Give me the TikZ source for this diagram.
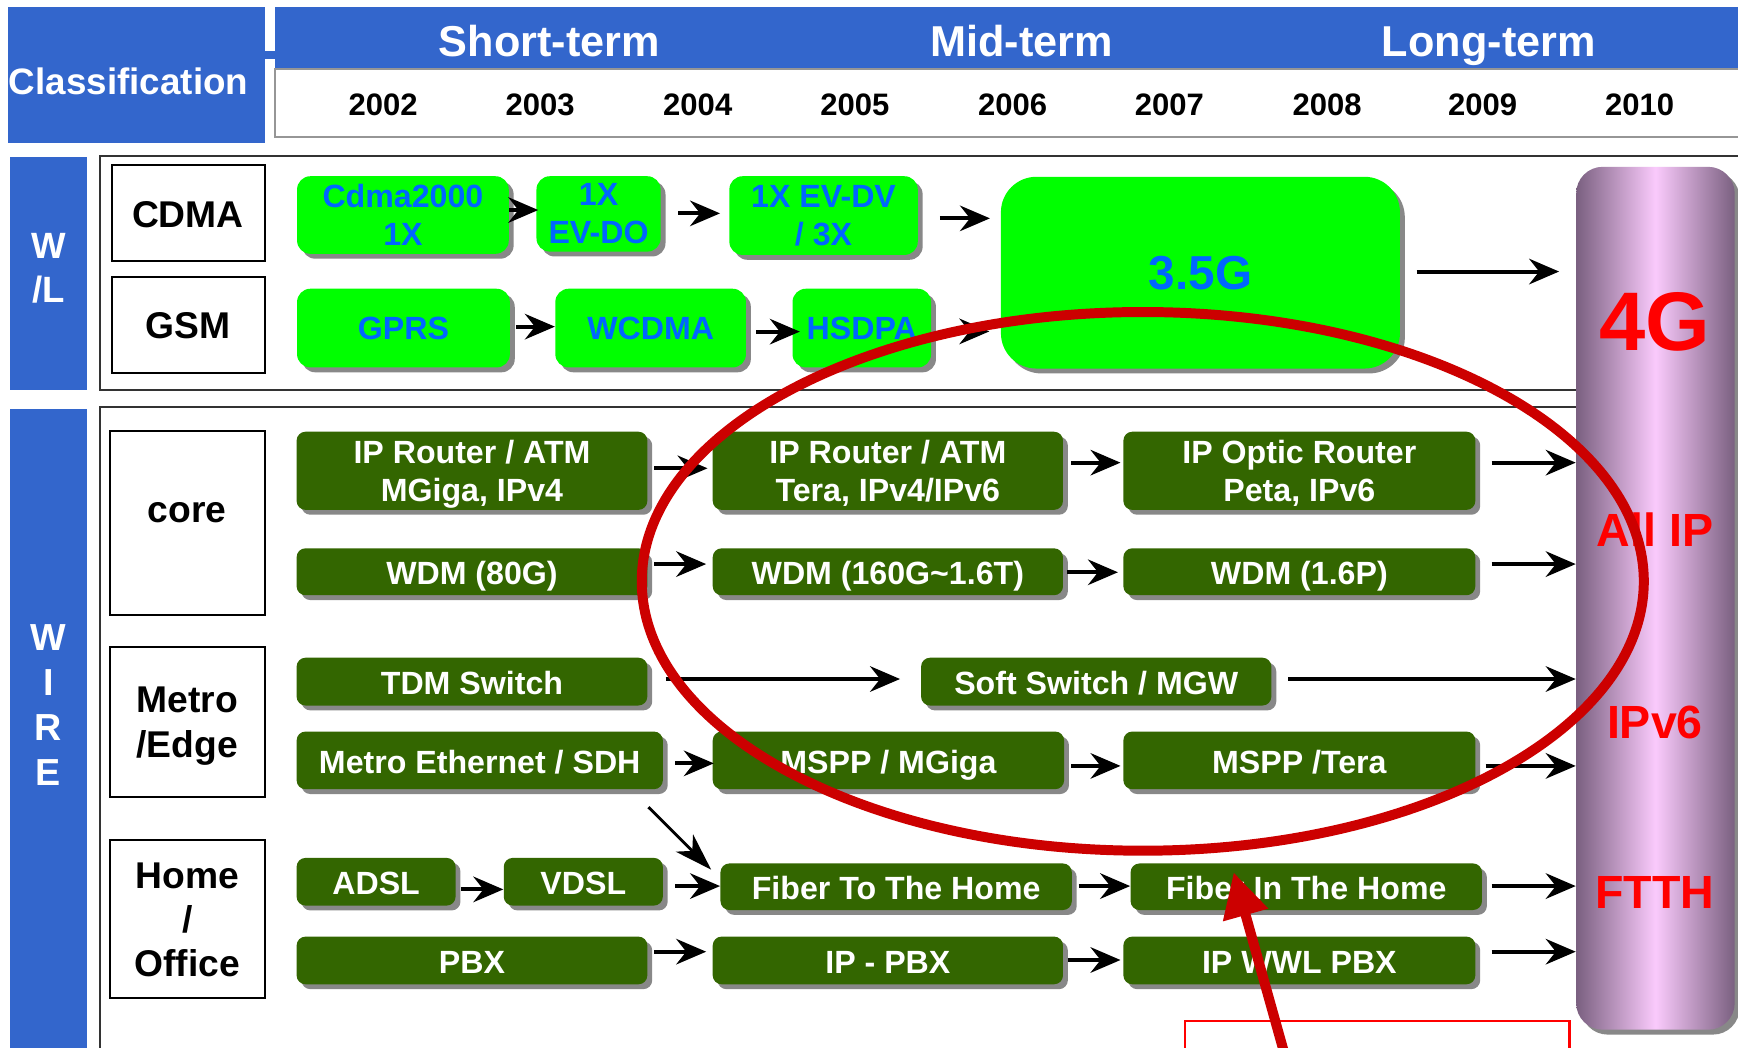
\documentclass[tikz,border=0pt]{standalone}
\usepackage{fontspec}
\setmainfont{Liberation Sans}
\usetikzlibrary{arrows.meta,shadows}
\definecolor{hdrblue}{RGB}{51,102,204}
\definecolor{lgreen}{RGB}{0,255,0}
\definecolor{lgtext}{RGB}{0,102,255}
\definecolor{dgreen}{RGB}{51,102,0}
\definecolor{shgray}{RGB}{136,136,136}
\definecolor{cyldark}{RGB}{122,96,128}
\definecolor{cyllight}{RGB}{250,202,252}
\definecolor{ellred}{RGB}{204,0,0}
\definecolor{txtred}{RGB}{255,0,0}
\definecolor{framegray}{RGB}{51,51,51}
\definecolor{stripgray}{RGB}{150,150,150}
\newcommand\tln[2]{\rule{0pt}{10.4pt}\smash{#1}\\\smash{#2}}
\begin{document}
\begin{tikzpicture}[x=0.5pt,y=-0.5pt,
  shad/.style={drop shadow={shadow xshift=2.2pt,shadow yshift=-2.2pt,fill=shgray,opacity=1}},
  lg/.style={shad,fill=lgreen,text=lgtext,rounded corners=6pt,inner sep=0pt,align=center,font=\bfseries\fontsize{14.5}{17}\selectfont},
  dg/.style={shad,fill=dgreen,text=white,rounded corners=4pt,inner sep=0pt,align=center,font=\bfseries\fontsize{14.5}{17}\selectfont},
  dgone/.style={dg,text height=11.4pt,text depth=0pt},
  labbox/.style={draw=black,line width=1pt,fill=white,inner sep=0pt},
  labtxt/.style={align=center,inner sep=0pt,font=\bfseries\fontsize{16.8}{20}\selectfont},
  sidebox/.style={fill=hdrblue,inner sep=0pt},
  sidetxt/.style={text=white,align=center,inner sep=0pt,font=\bfseries\fontsize{16.5}{20}\selectfont},
  framebox/.style={draw=framegray,line width=1pt,inner sep=0pt},
  arr/.style={line width=1.8pt,-{Stealth[length=13.5pt,width=11.5pt,inset=4.5pt]}},
  darr/.style={line width=1.3pt,-{Stealth[length=17pt,width=11pt,inset=5pt]}},
  yr/.style={anchor=base,font=\bfseries\fontsize{14}{17}\selectfont},
  term/.style={anchor=base,text=white,font=\bfseries\fontsize{19.5}{22}\selectfont},
  redt/.style={anchor=base,text=txtred,font=\bfseries\fontsize{21}{24}\selectfont},
]
\useasboundingbox (0,0) rectangle (1568,945);
\clip (0,0) rectangle (1568,945);
\fill[white] (0,0) rectangle (1568,945);

% ---------- header ----------
\node[sidebox,minimum width=115.75pt,minimum height=61.05pt] (cls) at (123.25,67.65) {};
\node[sidebox,minimum width=4.5pt,minimum height=3.5pt] (notch) at (243.5,49.5) {};
\node[anchor=base,text=white,inner sep=0pt,font=\bfseries\fontsize{16.6}{20}\selectfont] (clst) at (116,85) {Classification};
\node[sidebox,minimum width=666pt,minimum height=27.55pt] (hbar) at (914,34.15) {};
\node[draw=stripgray,line width=1pt,fill=white,inner sep=0pt,minimum width=666pt,minimum height=30.5pt] (ystrip) at (914,93) {};
\node[term] (st) at (495.7,51) {Short-term};
\node[term] (mt) at (921.8,51) {Mid-term};
\node[term] (lt) at (1343.2,51) {Long-term};
\node[yr] (y02) at (345.6,103.8) {2002};
\node[yr] (y03) at (487.4,103.8) {2003};
\node[yr] (y04) at (629.5,103.8) {2004};
\node[yr] (y05) at (771.3,103.8) {2005};
\node[yr] (y06) at (913.5,103.8) {2006};
\node[yr] (y07) at (1055,103.8) {2007};
\node[yr] (y08) at (1197.3,103.8) {2008};
\node[yr] (y09) at (1337.7,103.8) {2009};
\node[yr] (y10) at (1479.3,103.8) {2010};

% ---------- W/L ----------
\node[sidebox,minimum width=35.1pt,minimum height=105pt] (wlside) at (43.7,247) {};
\node[sidetxt] (wlt) at (43.7,242) {W\\/L};
\node[framebox,minimum width=755pt,minimum height=105.5pt] (wlf) at (845,246.5) {};
\node[labbox,minimum width=69pt,minimum height=43.25pt] (cdma) at (169.75,192.25) {};
\node[labtxt] (cdmat) at (169.5,193.5) {CDMA};
\node[labbox,minimum width=69pt,minimum height=43.6pt] (gsm) at (169.75,293.2) {};
\node[labtxt] (gsmt) at (169.5,293.5) {GSM};

\node[lg,minimum width=95.5pt,minimum height=35pt] (c1) at (363.5,194) {Cdma2000\\1X};
\node[lg,minimum width=56pt,minimum height=34pt] (c2) at (540,193) {1X\\EV-DO};
\node[lg,minimum width=85pt,minimum height=35.5pt] (c3) at (743,194.5) {1X EV-DV\\/ 3X};
\node[lg,minimum width=96pt,minimum height=35.5pt] (g1) at (364,296) {GPRS};
\node[lg,minimum width=86pt,minimum height=35.5pt] (g2) at (587,296) {WCDMA};
\node[lg,minimum width=62.5pt,minimum height=35.5pt] (g3) at (777.5,296) {HSDPA};
\node[lg,rounded corners=16pt,minimum width=180pt,minimum height=86.5pt,font=\bfseries\fontsize{21.5}{24}\selectfont] (big) at (1083,246) {3.5G};

\draw[arr,shorten >=-1pt] (c1.east |- 0,189.5) -- (c2.west |- 0,189.5);
\draw[arr,shorten <=7.8pt,shorten >=4pt] (c2.east |- 0,192.5) -- (c3.west |- 0,192.5);
\draw[arr,shorten <=9.75pt,shorten >=4.75pt] (c3.east |- 0,197) -- (big.west |- 0,197);
\draw[arr,shorten <=2.5pt] (g1.east |- 0,294.7) -- (g2.west |- 0,294.7);
\draw[arr,shorten <=4.4pt,shorten >=-3.5pt] (g2.east |- 0,299.2) -- (g3.west |- 0,299.2);
\draw[arr,shorten <=8.5pt,shorten >=5pt] (g3.east |- 0,299) -- (big.west |- 0,299);

% ---------- WIRE ----------
\node[sidebox,minimum width=35.1pt,minimum height=315.5pt] (wside) at (43.7,684.5) {};
\node[sidetxt,font=\bfseries\fontsize{17}{20.2}\selectfont] (wt) at (43.7,636) {W\\I\\R\\E};
\node[framebox,minimum width=755pt,minimum height=316.5pt] (wf) at (845,683.5) {};
\node[labbox,minimum width=69.75pt,minimum height=83.2pt] (core) at (169.25,471.8) {};
\node[labtxt,anchor=base] (coret) at (169,471) {core};
\node[labbox,minimum width=69.75pt,minimum height=67.8pt] (metro) at (169.25,651.2) {};
\node[labtxt] (metrot) at (169,655) {Metro\\/Edge};
\node[labbox,minimum width=69.75pt,minimum height=71.25pt] (home) at (169.25,829.25) {};
\node[labtxt] (homet) at (169,830) {Home\\/\\Office};

\node[dg,minimum width=158.2pt,minimum height=35.25pt] (r1a) at (425.8,424.75) {\tln{IP Router / ATM}{MGiga, IPv4}};
\node[dg,minimum width=158pt,minimum height=35.25pt] (r1b) at (801,424.75) {\tln{IP Router / ATM}{Tera, IPv4/IPv6}};
\node[dg,minimum width=158.75pt,minimum height=35.25pt] (r1c) at (1172.25,424.75) {\tln{IP Optic Router}{Peta, IPv6}};
\node[dgone,minimum width=158.2pt,minimum height=21.15pt] (r2a) at (425.8,515.85) {WDM (80G)};
\node[dgone,minimum width=158pt,minimum height=21.15pt] (r2b) at (801,515.85) {WDM (160G\textasciitilde1.6T)};
\node[dgone,minimum width=158.75pt,minimum height=21.15pt] (r2c) at (1172.25,515.85) {WDM (1.6P)};
\node[dgone,minimum width=158.2pt,minimum height=21.55pt] (m1a) at (425.8,614.95) {TDM Switch};
\node[dgone,minimum width=158pt,minimum height=21.55pt] (m1b) at (989,614.95) {Soft Switch / MGW};
\node[dgone,minimum width=165.2pt,minimum height=26pt] (m2a) at (432.8,686) {Metro Ethernet / SDH};
\node[dgone,minimum width=158.5pt,minimum height=26pt] (m2b) at (801.5,686) {MSPP / MGiga};
\node[dgone,minimum width=158.75pt,minimum height=26pt] (m2c) at (1172.25,686) {MSPP /Tera};
\node[dgone,minimum width=71.7pt,minimum height=21.5pt] (h1a) at (339.3,795.5) {ADSL};
\node[dgone,minimum width=71.75pt,minimum height=21.5pt] (h1b) at (526.25,795.5) {VDSL};
\node[dgone,minimum width=158.5pt,minimum height=21pt] (h1c) at (808.5,800) {Fiber To The Home};
\node[dgone,minimum width=158.5pt,minimum height=21pt] (h1d) at (1178.5,800) {Fiber In The Home};
\node[dgone,minimum width=158.2pt,minimum height=21.5pt] (h2a) at (425.8,866.5) {PBX};
\node[dgone,minimum width=158pt,minimum height=21.5pt] (h2b) at (801,866.5) {IP - PBX};
\node[dgone,minimum width=158.75pt,minimum height=21.5pt] (h2c) at (1172.25,866.5) {IP WWL PBX};

% ---------- 4G cylinder ----------
\node[shad,inner sep=0pt,rounded corners=12pt,minimum width=71.5pt,minimum height=389.25pt,
  left color=cyldark,right color=cyldark,middle color=cyllight] (cyl) at (1493.5,539.75) {};

\draw[arr,shorten <=7.3pt,shorten >=7.5pt] (big.east |- 0,245) -- (cyl.west |- 0,245);
\draw[arr,shorten <=2.9pt,shorten >=2.15pt] (r1a.east |- 0,422.5) -- (r1b.west |- 0,422.5);
\draw[arr,shorten <=3.5pt,shorten >=1.1pt] (r1b.east |- 0,417.4) -- (r1c.west |- 0,417.4);
\draw[arr,shorten <=7.2pt] (r1c.east |- 0,417.4) -- (cyl.west |- 0,417.4);
\draw[arr,shorten <=2.9pt,shorten >=2.75pt] (r2a.east |- 0,508.9) -- (r2b.west |- 0,508.9);
\draw[arr,shorten <=1.65pt,shorten >=2.25pt] (r2b.east |- 0,516.3) -- (r2c.west |- 0,516.3);
\draw[arr,shorten <=7.2pt] (r2c.east |- 0,508.9) -- (cyl.west |- 0,508.9);
\draw[arr,shorten <=8pt,shorten >=9.3pt] (m1a.east |- 0,612.6) -- (m1b.west |- 0,612.6);
\draw[arr,shorten <=7.4pt] (m1b.east |- 0,612.6) -- (cyl.west |- 0,612.6);
\draw[arr,shorten <=5.35pt,shorten >=-0.7pt] (m2a.east |- 0,688.7) -- (m2b.west |- 0,688.7);
\draw[arr,shorten <=3pt,shorten >=1.1pt] (m2b.east |- 0,691) -- (m2c.west |- 0,691);
\draw[arr,shorten <=4.5pt] (m2c.east |- 0,691) -- (cyl.west |- 0,691);
\draw[darr] ([shift={(-6.7pt,-7.9pt)}]m2a.south east) -- ([shift={(-4pt,-3pt)}]h1c.north west);
\draw[arr,shorten <=2.2pt] (h1a.east |- 0,802.4) -- (h1b.west |- 0,802.4);
\draw[arr,shorten <=5.35pt] (h1b.east |- 0,799.4) -- (h1c.west |- 0,799.4);
\draw[arr,shorten <=2.8pt] (h1c.east |- 0,799.4) -- (h1d.west |- 0,799.4);
\draw[arr,shorten <=4.2pt] (h1d.east |- 0,799.4) -- (cyl.west |- 0,799.4);
\draw[arr,shorten <=2.9pt,shorten >=2.75pt] (h2a.east |- 0,858.6) -- (h2b.west |- 0,858.6);
\draw[arr,shorten <=1.85pt,shorten >=1.1pt] (h2b.east |- 0,866.1) -- (h2c.west |- 0,866.1);
\draw[arr,shorten <=7.2pt] (h2c.east |- 0,858.6) -- (cyl.west |- 0,858.6);

\node[redt,font=\bfseries\fontsize{37.5}{40}\selectfont] (t4g) at (1493,315.8) {4G};
\node[redt] (tallip) at (1493,493.2) {All IP};
\node[redt] (tipv6) at (1493,666) {IPv6};
\node[redt] (tftth) at (1493,819.5) {FTTH};

% ---------- red highlight ----------
\draw[ellred,line width=4.5pt] (1031,524.5) ellipse [x radius=226pt,y radius=121.5pt];
\node[draw=txtred,line width=1pt,inner sep=0pt,minimum width=173.5pt,minimum height=40pt] (note) at (1242.5,961) {};
\coordinate (rs) at (1160,955);
\coordinate (rtip) at (1113,787);
\draw[ellred,line width=4.5pt,-{Triangle[length=20pt,width=20pt]}] (rs) -- (rtip);
\end{tikzpicture}
\end{document}
